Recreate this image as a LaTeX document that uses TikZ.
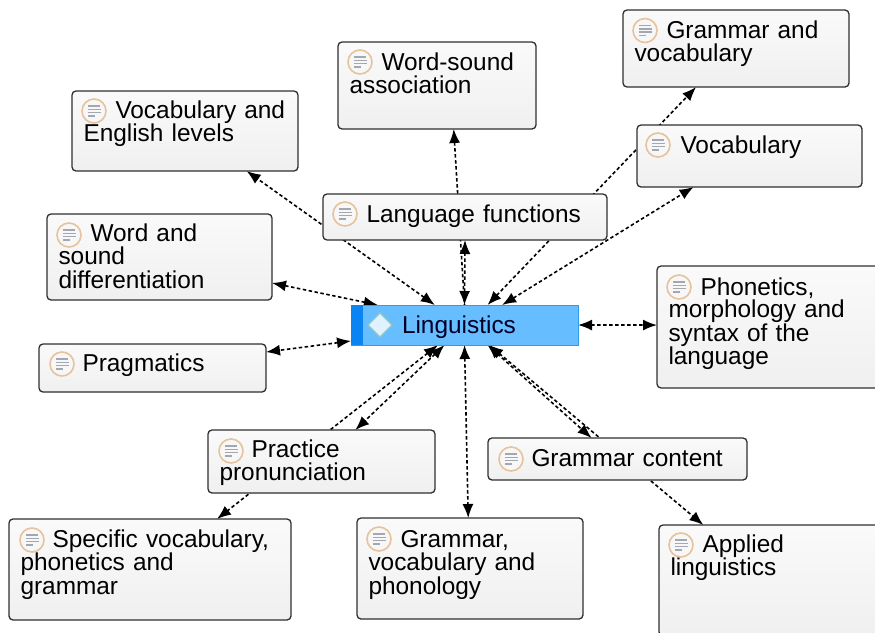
\documentclass[tikz,border=0pt]{standalone}
\usepackage{fontspec}
\setmainfont{Liberation Sans}
\usetikzlibrary{shapes}
\usetikzlibrary{arrows.meta}
\usetikzlibrary{backgrounds}
\definecolor{noteborder}{HTML}{2F2F2F}
\definecolor{notering}{HTML}{E6C39C}
\definecolor{noteline}{HTML}{A3A7B0}
\definecolor{linkblue}{HTML}{66BDFF}
\definecolor{linkedge}{HTML}{2E9CE6}
\definecolor{linkstripe}{HTML}{0A84F2}

\begin{document}
\begin{tikzpicture}[x=1pt,y=-1pt]
\tikzset{notebox/.style = {shape=rectangle,draw=noteborder,line width=1.3pt,rounded corners=4pt,top color=white!98!black,bottom color=white!94!black,anchor=north west,inner xsep=11.5pt,inner ysep=0pt,outer sep=0pt,align=left,font=\fontsize{24.4}{23.5}\selectfont,execute at begin node=\hspace*{32pt}}}
\tikzset{noteicon/.style = {shape=circle,draw=notering,line width=1.6pt,fill=white!97!black,inner sep=0pt,minimum size=24pt,path picture={\draw[noteline,line width=1.4pt,shift={(path picture bounding box.center)}] (-6,-5) -- (6,-5) (-6.5,-1.7) -- (6.5,-1.7) (-6.5,1.6) -- (6.5,1.6) (-6,4.9) -- (1,4.9);}}}
\tikzset{linkline/.style = {<->,>={Latex[length=14pt,width=11pt]},dash pattern=on 3.5pt off 2.5pt,line width=1.6pt}}
\useasboundingbox (0,0) rectangle (875,632);

\node[notebox,text width=203pt,text height=28pt,text depth=49pt] (grammarvocab) at (623,10) {Grammar and\\vocabulary};
\node[notebox,text width=202pt,text height=28pt,text depth=34pt] (vocabulary) at (637,125) {Vocabulary};
\node[notebox,text width=175pt,text height=28pt,text depth=59pt] (wordsound) at (338,42) {Word-sound\\association};
\node[notebox,text width=203pt,text height=27pt,text depth=53pt] (vocabenglish) at (72,91) {Vocabulary and\\English levels};
\node[notebox,text width=261pt,text height=28pt,text depth=18pt] (langfunctions) at (323,194) {Language functions};
\node[notebox,text width=202pt,text height=27pt,text depth=59pt] (worddiff) at (47,214) {Word and\\sound\\differentiation};
\node[notebox,text width=204pt,text height=27pt,text depth=21pt] (pragmatics) at (39,344) {Pragmatics};
\node[notebox,font=\fontsize{24.4}{22.5}\selectfont,text width=200pt,text height=29pt,text depth=93pt] (phonetics) at (657,266) {Phonetics,\\morphology and\\syntax of the\\language};
\node[notebox,text width=204pt,text height=27pt,text depth=36pt] (practice) at (208,430) {Practice\\pronunciation};
\node[notebox,text width=236pt,text height=28pt,text depth=14pt] (grammarcontent) at (488,438) {Grammar content};
\node[notebox,text width=259pt,text height=28pt,text depth=73pt] (specific) at (9,519) {Specific vocabulary,\\phonetics and\\grammar};
\node[notebox,text width=203pt,text height=29pt,text depth=72pt] (phonology) at (357,518) {Grammar,\\vocabulary and\\phonology};
\node[notebox,text width=198pt,text height=27pt,text depth=84pt] (applied) at (659,525) {Applied\\linguistics};

\node[notebox,draw=linkedge,line width=1pt,rounded corners=0pt,top color=linkblue,bottom color=linkblue,text=black!85!blue,text width=204pt,text height=28pt,text depth=12pt,execute at begin node=\hspace*{7.5pt}] (linguistics) at (351,305) {Linguistics};
\node[shape=rectangle,fill=linkstripe,inner sep=0pt,minimum width=12pt,minimum height=40pt] (linguisticsstripe) at (357,325) {};
\node[shape=diamond,draw=white!55!teal,line width=1.4pt,fill=white!80!linkblue,inner sep=0pt,minimum size=25pt] (linguisticsmark) at (380,325) {};

\node[noteicon] (grammarvocabicon) at (645,30.5) {};
\node[noteicon] (vocabularyicon) at (658,145) {};
\node[noteicon] (wordsoundicon) at (360,62) {};
\node[noteicon] (vocabenglishicon) at (94,111) {};
\node[noteicon] (langfunctionsicon) at (345,214) {};
\node[noteicon] (worddifficon) at (69,235) {};
\node[noteicon] (pragmaticsicon) at (62,364) {};
\node[noteicon] (phoneticsicon) at (679,287) {};
\node[noteicon] (practiceicon) at (231,451) {};
\node[noteicon] (grammarcontenticon) at (511,459) {};
\node[noteicon] (specificicon) at (32,540) {};
\node[noteicon] (phonologyicon) at (379,539) {};
\node[noteicon] (appliedicon) at (681,545) {};

\begin{pgfonlayer}{background}
\draw[linkline] (linguistics.146.7) to (vocabenglish.-33.7);
\draw[linkline,<-] (wordsound.-69.8) to (linguistics.north);
\draw[linkline] (linguistics.north) to (langfunctions.south);
\draw[linkline] (linguistics.41.6) to (grammarvocab.224.6);
\draw[linkline] (linguistics.28.7) to (vocabulary.209.6);
\draw[linkline] (linguistics.east) to (phonetics.179);
\draw[linkline] (linguistics.167.8) to (worddiff.-13);
\draw[linkline] (linguistics.188) to (pragmatics.8.5);
\draw[linkline] (linguistics.217) to (specific.37.4);
\draw[linkline] (linguistics.225.7) to (practice.43.2);
\draw[linkline] (linguistics.south) to (phonology.92);
\draw[linkline] (linguistics.321.9) to (applied.140.2);
\draw[linkline] (linguistics.319.6) to (grammarcontent.141.6);
\end{pgfonlayer}
\end{tikzpicture}
\end{document}
